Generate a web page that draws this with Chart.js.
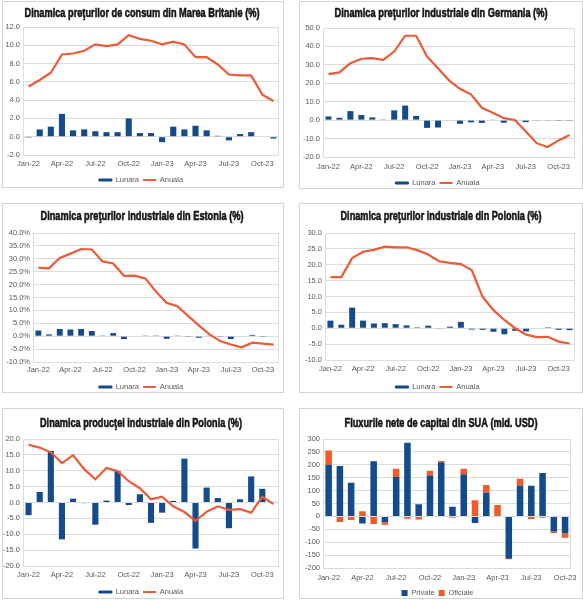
<!DOCTYPE html>
<html>
<head>
<meta charset="utf-8">
<script src="https://cdn.jsdelivr.net/npm/chart.js@4.4.1/dist/chart.umd.min.js"></script>
<style>
    html, body { margin: 0; padding: 0; background: #fff; }
    body { width: 583px; height: 600px; position: relative; overflow: hidden; }
    .panel { position: absolute; box-sizing: border-box; border: 1px solid #d4d4d4; background: #fff; }
    .panel canvas { display: block; }
</style>
</head>
<body>
<div class="panel" style="left:2px;top:1px;width:282px;height:187px"><canvas id="c1" width="280" height="185"></canvas></div>
<div class="panel" style="left:299px;top:1px;width:284px;height:188px"><canvas id="c2" width="282" height="186"></canvas></div>
<div class="panel" style="left:2px;top:203px;width:282px;height:190px"><canvas id="c3" width="280" height="188"></canvas></div>
<div class="panel" style="left:299px;top:203px;width:284px;height:190px"><canvas id="c4" width="282" height="188"></canvas></div>
<div class="panel" style="left:2px;top:408px;width:282px;height:191px"><canvas id="c5" width="280" height="189"></canvas></div>
<div class="panel" style="left:299px;top:408px;width:284px;height:191px"><canvas id="c6" width="282" height="189"></canvas></div>
<script>
(function () {
    'use strict';

    // luni (ian 2022 - nov 2023)
    var months = ['Jan-22', 'Feb-22', 'Mar-22', 'Apr-22', 'May-22', 'Jun-22', 'Jul-22', 'Aug-22',
        'Sep-22', 'Oct-22', 'Nov-22', 'Dec-22', 'Jan-23', 'Feb-23', 'Mar-23', 'Apr-23', 'May-23',
        'Jun-23', 'Jul-23', 'Aug-23', 'Sep-23', 'Oct-23', 'Nov-23'];
    // SUA: pana in oct 2023
    var usMonths = months.slice(0, 22);

    // Marea Britanie - IPC
    var ukMonthly = [-0.1, 0.8, 1.1, 2.5, 0.7, 0.8, 0.6, 0.5, 0.5, 2.0, 0.4, 0.4, -0.6, 1.1, 0.8, 1.2, 0.7, 0.1, -0.4, 0.3, 0.5, 0.0, -0.2];
    var ukAnnual = [5.5, 6.2, 7.0, 9.0, 9.1, 9.4, 10.1, 9.9, 10.1, 11.1, 10.7, 10.5, 10.1, 10.4, 10.1, 8.7, 8.7, 7.9, 6.8, 6.7, 6.7, 4.6, 3.9];

    // Germania - preturi industriale
    var deMonthly = [2.0, 1.3, 4.9, 2.8, 1.5, 0.4, 5.3, 7.9, 2.3, -4.2, -4.0, -0.3, -2.0, -1.2, -1.5, 0.2, -1.4, -0.1, -1.1, -0.2, -0.2, -0.1, -0.4];
    var deAnnual = [25.0, 25.9, 30.9, 33.3, 33.6, 32.7, 37.2, 45.8, 45.8, 34.5, 28.2, 21.6, 17.0, 14.0, 6.7, 4.0, 1.1, 0.1, -6.0, -12.5, -14.6, -11.0, -8.1];

    // Estonia - preturi industriale
    var eeMonthly = [2.2, 0.7, 2.8, 2.6, 2.8, 2.0, 0.3, 1.2, -1.1, 0.0, 0.1, 0.3, -1.0, 0.1, -0.3, -0.6, 0.1, -0.1, -1.1, 0.0, 0.5, -0.3, -0.2];
    var eeAnnual = [26.6, 26.3, 30.3, 32.0, 33.8, 33.6, 29.0, 28.2, 23.4, 23.5, 22.4, 17.3, 12.9, 11.6, 7.9, 4.2, 0.7, -1.9, -3.2, -4.3, -2.5, -2.9, -3.3];

    // Polonia - preturi industriale
    var plMonthly = [2.4, 1.1, 6.5, 2.4, 1.5, 1.6, 1.3, 0.9, 0.3, 0.8, -0.2, 0.5, 2.0, -0.4, -0.5, -1.1, -1.9, -0.8, -1.0, 0.0, 0.3, -0.5, -0.6];
    var plAnnual = [16.1, 16.1, 22.1, 24.1, 24.7, 25.7, 25.5, 25.5, 24.6, 23.2, 21.1, 20.6, 20.2, 18.3, 9.9, 5.7, 2.6, 0.0, -2.0, -2.8, -2.7, -4.2, -4.8];

    // Polonia - productie industriala
    var ipMonthly = [-4.0, 3.3, 16.2, -11.6, 1.2, -0.2, -7.0, 0.6, 9.9, -0.8, 2.6, -6.4, -3.2, 0.5, 13.8, -14.5, 4.7, 1.4, -8.1, 1.0, 8.2, 4.3, 0.2];
    var ipAnnual = [18.2, 17.3, 15.8, 12.4, 14.9, 10.5, 7.3, 10.9, 9.9, 6.7, 4.5, 1.0, 1.8, -1.2, -3.0, -5.8, -2.9, -1.2, -2.3, -2.1, -3.2, 1.8, -0.5];

    // SUA - fluxuri nete de capital (mld. USD)
    var usPrivate = [200, 195, 130, -28, 214, -23, 153, 285, 47, 159, 210, 37, 163, -26, 92, 3, -164, 119, 119, 168, -59, -65];
    var usOfficial = [55, -22, -14, 20, -29, -9, 32, -9, -12, 18, 5, -5, 22, 63, 30, 41, -2, 27, -10, -5, -5, -18];

    var BLUE = '#134b8c';
    var RED = '#ec5a36';
    var ORANGE = '#f25a27';
    var GRID = '#dcdcdc';
    var TICK = '#595959';
    var SANS = '"Liberation Sans", Arial, sans-serif';
    var FS = 7.5;

    // rama zonei de desen (ca in Excel)
    var framePlugin = {
        id: 'frame',
        beforeDatasetsDraw: function (chart) {
            var a = chart.chartArea;
            var ctx = chart.ctx;
            ctx.save();
            ctx.strokeStyle = GRID;
            ctx.lineWidth = 1;
            ctx.strokeRect(Math.round(a.left) + 0.5, Math.round(a.top) + 0.5,
                Math.round(a.right - a.left) - 1, Math.round(a.bottom - a.top));
            ctx.restore();
        }
    };

    // titlu ingust si gros (condensat pe orizontala)
    var titlePlugin = {
        id: 'narrowTitle',
        afterDraw: function (chart, args, opts) {
            var ctx = chart.ctx;
            ctx.save();
            ctx.font = 'bold 13px ' + SANS;
            ctx.fillStyle = '#151515';
            ctx.strokeStyle = '#151515';
            ctx.lineWidth = 0.6;
            ctx.lineJoin = 'round';
            ctx.textAlign = 'center';
            ctx.textBaseline = 'middle';
            var w = ctx.measureText(opts.text).width;
            ctx.translate(opts.x, opts.y);
            ctx.scale(opts.width / w, 1);
            ctx.fillText(opts.text, 0, 0);
            ctx.strokeText(opts.text, 0, 0);
            ctx.restore();
        }
    };

    function fixed1(v) { return v.toFixed(1); }
    function pct1(v) { return v.toFixed(1) + '%'; }
    function whole(v) { return String(v); }

    function barSet(label, data, color, pct) {
        return {
            label: label, data: data, backgroundColor: color,
            barPercentage: pct, categoryPercentage: 1, order: 1,
            legendColor: color, legendStroke: 1
        };
    }

    function lineSet(label, data) {
        return {
            type: 'line', label: label, data: data,
            borderColor: RED, backgroundColor: RED, borderWidth: 2.2,
            pointRadius: 0, tension: 0, order: 0,
            legendColor: RED, legendStroke: 0
        };
    }

    /**
     * cfg.lay: pozitii relative la canvas
     */
    function makeChart(id, cfg) {
        var canvas = document.getElementById(id);
        var W = canvas.width;
        var H = canvas.height;
        var L = cfg.lay;
        var legendPad = 4;
        var legendH = FS + legendPad + 10;
        var padBottom = H - (FS / 2 + 10) - L.legendC;
        var legendTop = H - padBottom - legendH;
        var box = cfg.box || { w: 13, h: 2 };

        return new Chart(canvas.getContext('2d'), {
            type: 'bar',
            data: { labels: cfg.labels, datasets: cfg.datasets },
            options: {
                responsive: false,
                animation: false,
                devicePixelRatio: 1,
                layout: { padding: { left: 0, right: W - L.plotR, top: L.plotT, bottom: padBottom } },
                plugins: {
                    narrowTitle: { text: cfg.title, x: L.titleX, y: L.titleC, width: L.titleW },
                    legend: {
                        position: 'bottom',
                        labels: {
                            boxWidth: box.w,
                            boxHeight: box.h,
                            padding: legendPad,
                            color: TICK,
                            font: { family: SANS, size: FS },
                            generateLabels: function (chart) {
                                return chart.data.datasets.map(function (ds, i) {
                                    return {
                                        text: ds.label,
                                        fillStyle: ds.legendColor,
                                        strokeStyle: ds.legendColor,
                                        lineWidth: cfg.box ? 0 : ds.legendStroke,
                                        fontColor: TICK,
                                        hidden: false,
                                        datasetIndex: i
                                    };
                                });
                            }
                        }
                    },
                    tooltip: { enabled: false }
                },
                scales: {
                    x: {
                        stacked: !!cfg.stacked,
                        grid: { display: false, drawTicks: false },
                        border: { display: false },
                        ticks: {
                            autoSkip: false,
                            maxRotation: 0,
                            padding: L.xLabelC - L.plotB - FS * 0.6,
                            color: TICK,
                            font: { family: SANS, size: FS },
                            callback: function (value, index) {
                                return index % 3 === 0 ? this.getLabelForValue(value) : '';
                            }
                        },
                        afterFit: function (s) { s.height = legendTop - L.plotB; }
                    },
                    y: {
                        stacked: !!cfg.stacked,
                        min: cfg.yMin,
                        max: cfg.yMax,
                        border: { display: false },
                        grid: { color: GRID, drawTicks: false, lineWidth: 1 },
                        ticks: {
                            stepSize: cfg.yStep,
                            padding: 3,
                            color: TICK,
                            font: { family: SANS, size: FS },
                            callback: cfg.fmt
                        },
                        afterFit: function (s) { s.width = L.plotL; }
                    }
                }
            },
            plugins: [framePlugin, titlePlugin]
        });
    }

    makeChart('c1', {
        title: 'Dinamica preţurilor de consum din Marea Britanie (%)',
        labels: months,
        datasets: [barSet('Lunara', ukMonthly, BLUE, 0.55), lineSet('Anuala', ukAnnual)],
        yMin: -2, yMax: 12, yStep: 2, fmt: fixed1,
        lay: { plotL: 20, plotR: 276, plotT: 25, plotB: 153, titleX: 139, titleC: 11, titleW: 235, xLabelC: 162, legendC: 178 }
    });

    makeChart('c2', {
        title: 'Dinamica preţurilor industriale din Germania (%)',
        labels: months,
        datasets: [barSet('Lunara', deMonthly, BLUE, 0.55), lineSet('Anuala', deAnnual)],
        yMin: -20, yMax: 50, yStep: 10, fmt: fixed1,
        lay: { plotL: 23, plotR: 275, plotT: 26, plotB: 155, titleX: 141, titleC: 11, titleW: 213, xLabelC: 165, legendC: 181 }
    });

    makeChart('c3', {
        title: 'Dinamica preţurilor industriale din Estonia (%)',
        labels: months,
        datasets: [barSet('Lunara', eeMonthly, BLUE, 0.55), lineSet('Anuala', eeAnnual)],
        yMin: -10, yMax: 40, yStep: 5, fmt: pct1,
        lay: { plotL: 30, plotR: 276, plotT: 29, plotB: 158, titleX: 139, titleC: 12, titleW: 203, xLabelC: 166, legendC: 183 }
    });

    makeChart('c4', {
        title: 'Dinamica preţurilor industriale din Polonia (%)',
        labels: months,
        datasets: [barSet('Lunara', plMonthly, BLUE, 0.55), lineSet('Anuala', plAnnual)],
        yMin: -10, yMax: 30, yStep: 5, fmt: fixed1,
        lay: { plotL: 25, plotR: 275, plotT: 29, plotB: 156, titleX: 141, titleC: 12, titleW: 201, xLabelC: 165, legendC: 183 }
    });

    makeChart('c5', {
        title: 'Dinamica producţei industriale din Polonia (%)',
        labels: months,
        datasets: [barSet('Lunara', ipMonthly, BLUE, 0.55), lineSet('Anuala', ipAnnual)],
        yMin: -20, yMax: 20, yStep: 5, fmt: fixed1,
        lay: { plotL: 20, plotR: 276, plotT: 30, plotB: 157, titleX: 138, titleC: 14, titleW: 202, xLabelC: 166, legendC: 183 }
    });

    makeChart('c6', {
        title: 'Fluxurile nete de capital din SUA (mld. USD)',
        labels: usMonths,
        stacked: true,
        box: { w: 6, h: 6 },
        datasets: [barSet('Private', usPrivate, BLUE, 0.58), barSet('Oficiale', usOfficial, ORANGE, 0.58)],
        yMin: -200, yMax: 300, yStep: 50, fmt: whole,
        lay: { plotL: 23, plotR: 275, plotT: 30, plotB: 159, titleX: 141, titleC: 14, titleW: 193, xLabelC: 169, legendC: 184 }
    });
})();
</script>
</body>
</html>
